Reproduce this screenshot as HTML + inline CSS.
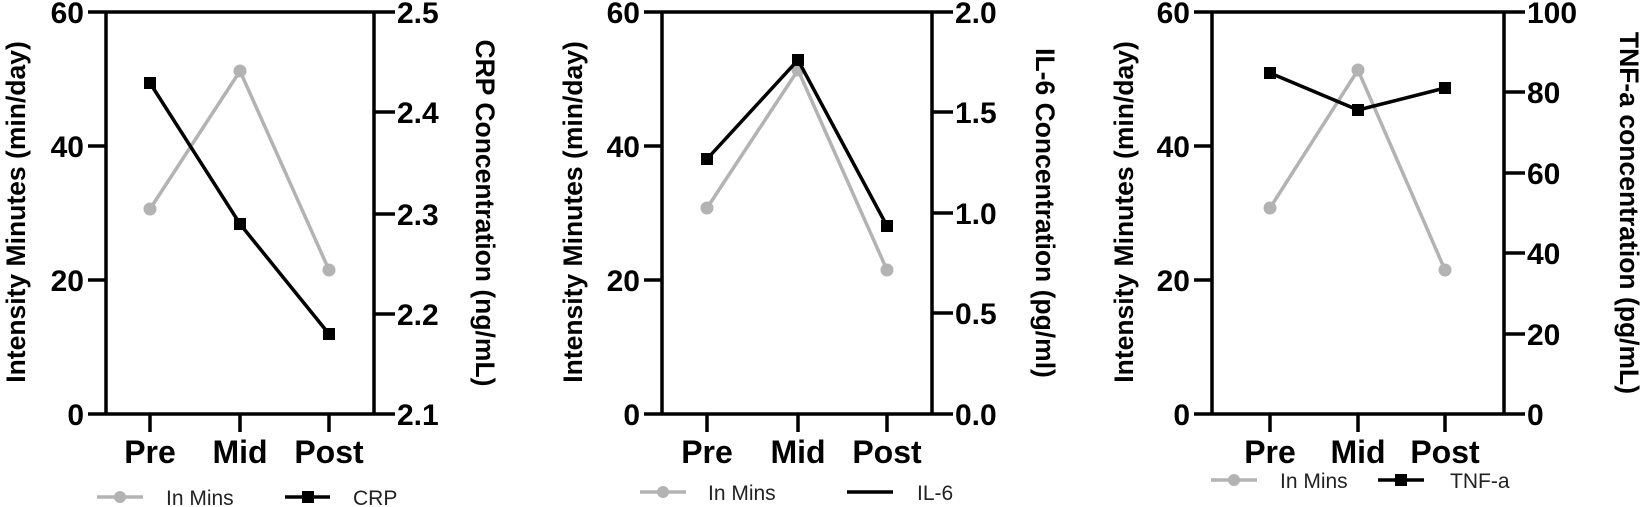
<!DOCTYPE html>
<html><head><meta charset="utf-8"><style>
body{margin:0;background:#fff}
svg{display:block}
text{font-family:"Liberation Sans",Arial,sans-serif}
.t{font-weight:bold;font-size:30px;fill:#000}
.c{font-weight:bold;font-size:32px;fill:#000;text-anchor:middle}
.ti{font-weight:bold;font-size:26.5px;fill:#000;text-anchor:middle}
.lg{font-size:21px;fill:#222}
.ax{stroke:#000;stroke-width:3.5;fill:none}
.g{stroke:#b3b3b3;stroke-width:3.5;fill:none}
.b{stroke:#000;stroke-width:3.5;fill:none}
</style></head><body>
<svg width="1642" height="507" viewBox="0 0 1642 507" xmlns="http://www.w3.org/2000/svg">
<!-- Panel 1 -->
<g>
<path class="ax" d="M106 12V414H374V12H106M88 12H106M88 146H106M88 280H106M88 414H106M374 12H395M374 112H395M374 214H395M374 314H395M374 414H395M150 414V432M240 414V432M329 414V432"/>
<text class="t" x="84" y="23" text-anchor="end">60</text>
<text class="t" x="84" y="157" text-anchor="end">40</text>
<text class="t" x="84" y="291" text-anchor="end">20</text>
<text class="t" x="84" y="425" text-anchor="end">0</text>
<text class="t" x="397" y="23">2.5</text>
<text class="t" x="397" y="123">2.4</text>
<text class="t" x="397" y="225">2.3</text>
<text class="t" x="397" y="325">2.2</text>
<text class="t" x="397" y="425">2.1</text>
<text class="c" x="150" y="463">Pre</text><text class="c" x="240" y="463">Mid</text><text class="c" x="329" y="463">Post</text>
<text class="ti" transform="translate(25,212) rotate(-90)">Intensity Minutes (min/day)</text>
<text class="ti" transform="translate(476,213) rotate(90)">CRP Concentration (ng/mL)</text>
<polyline class="g" points="150,209 240,71 329,270"/>
<circle cx="150" cy="209" r="6.5" fill="#b3b3b3"/><circle cx="240" cy="71" r="6.5" fill="#b3b3b3"/><circle cx="329" cy="270" r="6.5" fill="#b3b3b3"/>
<polyline class="b" points="150,83 240,224 329,334"/>
<rect x="144" y="77" width="12" height="12"/><rect x="234" y="218" width="12" height="12"/><rect x="323" y="328" width="12" height="12"/>
<line class="g" x1="97" y1="497" x2="143" y2="497"/><circle cx="120" cy="497" r="6" fill="#b3b3b3"/>
<text class="lg" x="166" y="505">In Mins</text>
<line class="b" x1="285" y1="497" x2="330" y2="497"/><rect x="302" y="491" width="12" height="12"/>
<text class="lg" x="353" y="505">CRP</text>
</g>
<!-- Panel 2 -->
<g>
<path class="ax" d="M662 12V414H932V12H662M644 12H662M644 146H662M644 280H662M644 414H662M932 12H953M932 112H953M932 213H953M932 313H953M932 414H953M707 414V432M798 414V432M887 414V432"/>
<text class="t" x="640" y="23" text-anchor="end">60</text>
<text class="t" x="640" y="157" text-anchor="end">40</text>
<text class="t" x="640" y="291" text-anchor="end">20</text>
<text class="t" x="640" y="425" text-anchor="end">0</text>
<text class="t" x="955" y="23">2.0</text>
<text class="t" x="955" y="123">1.5</text>
<text class="t" x="955" y="224">1.0</text>
<text class="t" x="955" y="324">0.5</text>
<text class="t" x="955" y="425">0.0</text>
<text class="c" x="707" y="463">Pre</text><text class="c" x="798" y="463">Mid</text><text class="c" x="887" y="463">Post</text>
<text class="ti" transform="translate(582,212) rotate(-90)">Intensity Minutes (min/day)</text>
<text class="ti" transform="translate(1036,213) rotate(90)">IL-6 Concentration (pg/ml)</text>
<polyline class="g" points="707,208 798,70 887,270"/>
<circle cx="707" cy="208" r="6.5" fill="#b3b3b3"/><circle cx="798" cy="70" r="6.5" fill="#b3b3b3"/><circle cx="887" cy="270" r="6.5" fill="#b3b3b3"/>
<polyline class="b" points="707,159 798,60 887,226"/>
<rect x="701" y="153" width="12" height="12"/><rect x="792" y="54" width="12" height="12"/><rect x="881" y="220" width="12" height="12"/>
<line class="g" x1="640" y1="492" x2="686" y2="492"/><circle cx="663" cy="492" r="6" fill="#b3b3b3"/>
<text class="lg" x="708" y="500">In Mins</text>
<line class="b" x1="847" y1="492" x2="893" y2="492"/>
<text class="lg" x="917" y="500">IL-6</text>
</g>
<!-- Panel 3 -->
<g>
<path class="ax" d="M1212 12V414H1504V12H1212M1194 12H1212M1194 146H1212M1194 280H1212M1194 414H1212M1504 12H1525M1504 92H1525M1504 173H1525M1504 253H1525M1504 334H1525M1504 414H1525M1270 414V432M1358 414V432M1445 414V432"/>
<text class="t" x="1190" y="23" text-anchor="end">60</text>
<text class="t" x="1190" y="157" text-anchor="end">40</text>
<text class="t" x="1190" y="291" text-anchor="end">20</text>
<text class="t" x="1190" y="425" text-anchor="end">0</text>
<text class="t" x="1527" y="23">100</text>
<text class="t" x="1527" y="103">80</text>
<text class="t" x="1527" y="184">60</text>
<text class="t" x="1527" y="264">40</text>
<text class="t" x="1527" y="345">20</text>
<text class="t" x="1527" y="425">0</text>
<text class="c" x="1270" y="463">Pre</text><text class="c" x="1358" y="463">Mid</text><text class="c" x="1445" y="463">Post</text>
<text class="ti" transform="translate(1133,212) rotate(-90)">Intensity Minutes (min/day)</text>
<text class="ti" transform="translate(1620,213) rotate(90)">TNF-a concentration (pg/mL)</text>
<polyline class="g" points="1270,208 1358,70 1445,270"/>
<circle cx="1270" cy="208" r="6.5" fill="#b3b3b3"/><circle cx="1358" cy="70" r="6.5" fill="#b3b3b3"/><circle cx="1445" cy="270" r="6.5" fill="#b3b3b3"/>
<polyline class="b" points="1270,73 1358,110 1445,88"/>
<rect x="1264" y="67" width="12" height="12"/><rect x="1352" y="104" width="12" height="12"/><rect x="1439" y="82" width="12" height="12"/>
<line class="g" x1="1211" y1="480" x2="1257" y2="480"/><circle cx="1234" cy="480" r="6" fill="#b3b3b3"/>
<text class="lg" x="1280" y="488">In Mins</text>
<line class="b" x1="1378" y1="480" x2="1424" y2="480"/><rect x="1395" y="474" width="12" height="12"/>
<text class="lg" x="1450" y="488">TNF-a</text>
</g>
</svg>
</body></html>
